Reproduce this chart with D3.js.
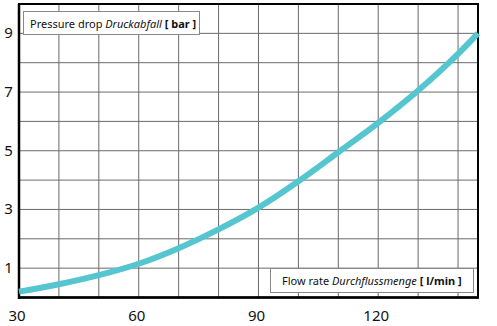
<!DOCTYPE html>
<html><head><meta charset="utf-8">
<script src="https://cdn.jsdelivr.net/npm/d3@7"></script>
<style>html,body{margin:0;padding:0;background:#fff;}</style>
</head><body>
<svg id="c" width="497" height="326"></svg>
<script>
const flow = [30,40,50,60,70,80,90,100,110,120,130,140,145];
const pressure = [0.2,0.45,0.76,1.15,1.68,2.32,3.06,3.96,4.95,5.95,7.05,8.3,9.0];
const xTicks = [30,60,90,120];
const yTicks = [1,3,5,7,9];
const xGrid = [40,50,60,70,80,90,100,110,120,130,140];
const yGrid = [1,2,3,4,5,6,7,8,9];

const svg = d3.select("#c");
const L=19, R=478, T=4, B=297.5;
const x = d3.scaleLinear().domain([30,145]).range([L,R]);
const y = d3.scaleLinear().domain([0,10]).range([B,T]);
const font = "'Noto Sans', sans-serif";

svg.append("g").selectAll("line").data(xGrid).join("line")
  .attr("x1",d=>x(d)).attr("x2",d=>x(d)).attr("y1",T).attr("y2",B)
  .attr("stroke","#6a6a6a").attr("stroke-width",1);
svg.append("g").selectAll("line").data(yGrid).join("line")
  .attr("y1",d=>y(d)).attr("y2",d=>y(d)).attr("x1",L).attr("x2",R)
  .attr("stroke","#6a6a6a").attr("stroke-width",1);

// frame
svg.append("rect").attr("x",L).attr("y",T).attr("width",R-L).attr("height",B-T)
  .attr("fill","none").attr("stroke","#000").attr("stroke-width",2);
svg.append("line").attr("x1",L).attr("x2",L).attr("y1",T).attr("y2",B+1.5).attr("stroke","#000").attr("stroke-width",2.5);
svg.append("line").attr("x1",L-1).attr("x2",R+1).attr("y1",B).attr("y2",B).attr("stroke","#000").attr("stroke-width",2.5);

// curve
const line = d3.line().x((d,i)=>x(flow[i])).y(d=>y(d)).curve(d3.curveMonotoneX);
svg.append("path").datum(pressure).attr("d",line)
  .attr("fill","none").attr("stroke","#55c6cf").attr("stroke-width",6).attr("stroke-linecap","butt");

// tick labels
svg.append("g").selectAll("text").data(xTicks).join("text")
  .attr("x",d=>x(d)-2).attr("y",321).attr("text-anchor","middle")
  .attr("font-family",font).attr("font-size",15).attr("fill","#111").text(d=>d);
svg.append("g").selectAll("text").data(yTicks).join("text")
  .attr("x",8.5).attr("y",d=>y(d)+5).attr("text-anchor","middle")
  .attr("font-family",font).attr("font-size",15).attr("fill","#111").text(d=>d);

// label boxes
svg.append("rect").attr("x",23.5).attr("y",11.5).attr("width",176).attr("height",23)
  .attr("fill","#fff").attr("stroke","#888").attr("stroke-width",1);
const t1 = svg.append("text").attr("x",30).attr("y",27.5).attr("font-family",font).attr("font-size",11).attr("fill","#111");
t1.append("tspan").text("Pressure drop ");
t1.append("tspan").attr("font-style","italic").text("Druckabfall");
t1.append("tspan").attr("font-weight","bold").text(" [ bar ]");

svg.append("rect").attr("x",270.5).attr("y",268.5).attr("width",203).attr("height",24)
  .attr("fill","#fff").attr("stroke","#888").attr("stroke-width",1);
const t2 = svg.append("text").attr("x",282).attr("y",285).attr("font-family",font).attr("font-size",11).attr("fill","#111");
t2.append("tspan").text("Flow rate ");
t2.append("tspan").attr("font-style","italic").text("Durchflussmenge");
t2.append("tspan").attr("font-weight","bold").text(" [ l/min ]");
</script>
</body></html>
